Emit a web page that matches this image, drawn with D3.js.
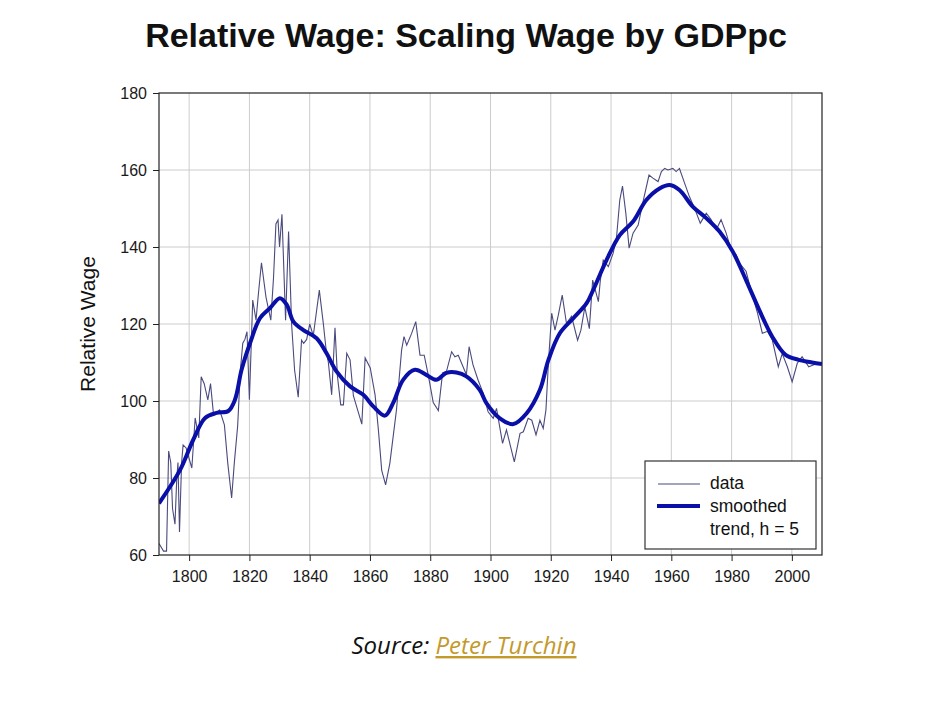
<!DOCTYPE html>
<html><head><meta charset="utf-8">
<script src="https://cdn.jsdelivr.net/npm/d3@7"></script>
<style>
html,body{margin:0;padding:0;background:#fff;}
svg{display:block;}
</style></head>
<body>
<script>
const titleText = "Relative Wage: Scaling Wage by GDPpc";
const yLabel = "Relative Wage";
const xTicks = [1800,1820,1840,1860,1880,1900,1920,1940,1960,1980,2000];
const yTicks = [60,80,100,120,140,160,180];
const legendLabels = ["data", "smoothed", "trend, h = 5"];

const dataYears = [1790,1791.5,1792.5,1793.2,1793.9,1794.5,1795.3,1795.9,1796.3,1796.8,1797.5,1798,1799,1800,1800.9,1802,1803.2,1804,1805,1806.2,1807.1,1808.1,1809,1810.1,1811.7,1812.8,1814.1,1815,1816.1,1817,1817.8,1818.5,1819.2,1820,1821.1,1822.2,1823,1824,1825.5,1827.1,1828,1828.8,1829.5,1830,1830.8,1832,1833,1834,1835,1836.2,1837.3,1838,1839,1840,1841.2,1843.2,1844.5,1845.5,1846.2,1847.3,1848.4,1849.2,1850.3,1851.2,1852.3,1853.4,1854.5,1856.2,1857.3,1858.4,1860.1,1861.7,1862.8,1863.9,1865.2,1866.6,1868.8,1870.5,1871.3,1872.2,1873.8,1875.2,1876.6,1878,1879.4,1881,1882.7,1884.1,1885.4,1887.1,1888.2,1889.3,1890.9,1892,1892.9,1894.2,1895.9,1897.6,1899.2,1900.9,1902,1904,1905.3,1906.4,1907.9,1909.8,1910.9,1912.5,1913.7,1915.1,1916.4,1917.5,1918.4,1919.2,1920.3,1921.4,1922.5,1923.8,1925.2,1926.9,1928.9,1930,1931.3,1932.8,1933.9,1935.8,1936.4,1937.4,1939.1,1940.7,1941.8,1942.9,1943.8,1944.9,1946,1947.3,1949,1950.6,1952.6,1953.9,1955.6,1956.7,1957.8,1958.9,1960.5,1961.6,1962.7,1964.4,1966,1967.7,1969.6,1971.6,1973.2,1974.9,1976.5,1978.2,1979.8,1981.5,1982.6,1984.8,1986.4,1988.6,1990.2,1991.9,1993.5,1995.5,1996.8,1998.5,2000.1,2001.8,2003.4,2005.6,2007.3,2009.5];
const dataValues = [63,61,61,87,84,72,68,80,84,66,84,88.6,87.8,85,82.6,95.6,90.4,106.3,104.5,100.3,104.5,96.4,97,97.7,93.8,84,74.8,84,93.5,108,115,116,118,100.3,126.2,121,128,135.9,127,121,132,146,147,140,148.5,121,144,120,108,101,115.8,115,116,120,117,128.8,120.3,113,110,101.6,119,106.5,99,99,112.4,110.7,101.4,96.9,94,111.2,108.6,101.6,92.5,82,78.2,83.8,97.7,113.2,116.7,114.5,117.5,120.6,111.9,111.9,106.5,99.6,97.5,107.3,107.7,112.8,111.5,111.9,108.9,106.8,114.1,109.4,105.4,102,97.2,95.5,98.1,89,92.5,89,84.2,91.6,92,95.5,95,91.2,95,92.9,97.7,109.8,122.8,118.4,122.3,127.5,120.2,122,115.8,118.4,124.4,118.8,131.4,125.8,131,136.6,134.9,138.4,142.3,152.2,155.8,148.8,139.7,143.6,145.7,151.7,158.7,157.9,157,159.6,160.4,160,160.4,159.6,160.4,156.6,153.1,150.1,146.2,148.8,147.1,144.5,147.1,143.6,139.3,138,135.8,133.7,128.9,122.8,117.6,118.1,115.9,108.9,112.3,108.9,105,109.8,111.5,108.9,109.4,109.8];

const trendYears = [1790,1797,1801.4,1805.3,1809.1,1813,1815.2,1817.4,1820.2,1823.5,1826.8,1830.1,1832.4,1834.6,1837.9,1842.3,1845.6,1848.9,1853.4,1857.8,1861.1,1865,1867.7,1871,1874.9,1878.7,1882,1885.4,1888.7,1892,1896.4,1898.7,1903.1,1907.6,1912,1916.4,1919.2,1923,1927.5,1931.9,1934.1,1938.5,1942.9,1947.3,1951.7,1956.1,1959.5,1962.7,1967.1,1971.6,1976,1980.4,1984.8,1989.2,1993.5,1997.9,2002.3,2006.7,2010];
const trendValues = [73.4,82.1,90,95.6,96.9,97.4,100.3,108.1,115,121.5,124.1,126.7,125,120.6,118.4,116.3,112.4,107.7,103.8,101.6,98.6,96.2,99.5,105.5,108.1,106.8,105.5,107.3,107.4,106.4,102.9,99.4,95.5,94,96.8,102.9,110.6,117.6,121.5,125.4,128.9,136.6,143.1,146.6,152.2,155.2,156.1,154.8,150.5,147.5,144,138.8,131.4,123.6,116.7,112,110.7,110,109.6];

const W = 952, H = 702;
const L = 159, R = 822, T = 93, B = 555;
const FONT = "Liberation Sans, Arial, sans-serif";
const svg = d3.select("body").append("svg").attr("width", W).attr("height", H);

const x = d3.scaleLinear().domain([1790, 2010]).range([L, R]);
const y = d3.scaleLinear().domain([60, 180]).range([B, T]);

// grid
const grid = svg.append("g").attr("stroke", "#cccccc").attr("stroke-width", 1);
xTicks.forEach(t => grid.append("line").attr("x1", x(t)).attr("x2", x(t)).attr("y1", T).attr("y2", B));
yTicks.filter(t => t > 60 && t < 180).forEach(t => grid.append("line").attr("x1", L).attr("x2", R).attr("y1", y(t)).attr("y2", y(t)));

svg.append("defs").append("clipPath").attr("id", "clip")
  .append("rect").attr("x", L).attr("y", T).attr("width", R - L).attr("height", B - T);

const dataPts = dataYears.map((d, i) => [d, dataValues[i]]);
const trendPts = trendYears.map((d, i) => [d, trendValues[i]]);

const plot = svg.append("g").attr("clip-path", "url(#clip)");
plot.append("path").datum(dataPts)
  .attr("d", d3.line().x(d => x(d[0])).y(d => y(d[1])))
  .attr("fill", "none").attr("stroke", "#4a4a7e").attr("stroke-width", 1.1);
plot.append("path").datum(trendPts)
  .attr("d", d3.line().curve(d3.curveCatmullRom.alpha(0.5)).x(d => x(d[0])).y(d => y(d[1])))
  .attr("fill", "none").attr("stroke", "#0a0fa8").attr("stroke-width", 4).attr("stroke-linejoin", "round");

// axes
const xAxis = d3.axisBottom(x).tickValues(xTicks).tickFormat(d3.format("d")).tickSize(6).tickPadding(10);
const yAxis = d3.axisLeft(y).tickValues(yTicks).tickSize(6).tickPadding(6);
const gx = svg.append("g").attr("transform", `translate(0,${B})`).call(xAxis);
const gy = svg.append("g").attr("transform", `translate(${L},0)`).call(yAxis);
[gx, gy].forEach(g => {
  g.select(".domain").remove();
  g.selectAll("line").attr("stroke", "#222");
  g.selectAll("text").attr("font-family", FONT).attr("font-size", 16).attr("fill", "#1a1a1a");
});
// frame
svg.append("rect").attr("x", L).attr("y", T).attr("width", R - L).attr("height", B - T)
  .attr("fill", "none").attr("stroke", "#222").attr("stroke-width", 1.2);

// title
svg.append("text").attr("x", 466).attr("y", 47).attr("text-anchor", "middle")
  .attr("font-family", FONT).attr("font-weight", "bold")
  .attr("font-size", 34).attr("fill", "#111").text(titleText);

// y label
svg.append("text").attr("transform", `translate(95,${(T + B) / 2}) rotate(-90)`)
  .attr("text-anchor", "middle").attr("font-family", FONT)
  .attr("font-size", 21).attr("fill", "#111").text(yLabel);

// legend
const lg = svg.append("g");
lg.append("rect").attr("x", 645).attr("y", 461).attr("width", 171).attr("height", 88)
  .attr("fill", "#fff").attr("stroke", "#333").attr("stroke-width", 1.2);
lg.append("line").attr("x1", 658).attr("x2", 700).attr("y1", 484).attr("y2", 484)
  .attr("stroke", "#4a4a7e").attr("stroke-width", 1.1);
lg.append("line").attr("x1", 657).attr("x2", 700).attr("y1", 506).attr("y2", 506)
  .attr("stroke", "#0a0fa8").attr("stroke-width", 4);
const ly = [489, 512, 535];
legendLabels.forEach((t, i) => lg.append("text").attr("x", 710).attr("y", ly[i])
  .attr("font-family", FONT).attr("font-size", 17.5).attr("fill", "#111").text(t));

// source
const src = svg.append("text").attr("x", 464).attr("y", 654).attr("text-anchor", "middle")
  .attr("font-family", "Open Sans, sans-serif").attr("font-style", "italic").attr("font-size", 24);
src.append("tspan").attr("fill", "#111").text("Source: ");
src.append("tspan").attr("fill", "#c4992c").attr("text-decoration", "underline").text("Peter Turchin");
</script>
</body></html>
